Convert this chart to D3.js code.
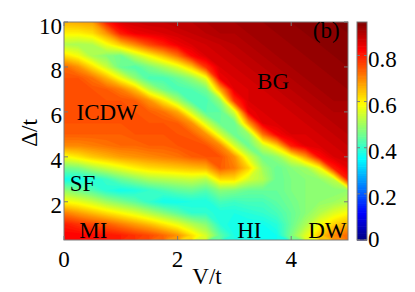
<!DOCTYPE html>
<html><head><meta charset="utf-8">
<script src="https://cdn.jsdelivr.net/npm/d3@7"></script>
<style>html,body{margin:0;padding:0;background:#fff}svg{display:block}</style>
</head><body><svg id="c" width="415" height="292"></svg>
<script>
// ---- data ----
const vGrid = [0,0.25,0.5,0.75,1,1.25,1.5,1.75,2,2.25,2.5,2.75,3,3.25,3.5,3.75,4,4.25,4.5,4.75,5];
const deltaGrid = [10,9.5,9,8.5,8,7.5,7,6.5,6,5.5,5,4.5,4,3.5,3,2.5,2,1.5,1,0.5];
// order parameter, one column per V value, entries follow deltaGrid (top to bottom)
const valuesByV = [
 [0.66,0.60,0.52,0.62,0.73,0.75,0.75,0.75,0.75,0.75,0.74,0.70,0.58,0.46,0.37,0.49,0.59,0.71,0.80,0.83],
 [0.67,0.60,0.51,0.58,0.69,0.75,0.75,0.75,0.75,0.75,0.74,0.70,0.61,0.47,0.37,0.46,0.57,0.68,0.78,0.83],
 [0.68,0.62,0.52,0.51,0.62,0.72,0.75,0.75,0.75,0.75,0.74,0.71,0.64,0.51,0.38,0.43,0.54,0.65,0.76,0.82],
 [0.80,0.69,0.58,0.48,0.54,0.66,0.74,0.75,0.75,0.75,0.74,0.72,0.66,0.54,0.41,0.39,0.50,0.62,0.74,0.81],
 [0.86,0.80,0.64,0.46,0.45,0.58,0.71,0.75,0.75,0.75,0.74,0.73,0.68,0.57,0.45,0.37,0.47,0.59,0.71,0.80],
 [0.87,0.84,0.70,0.53,0.43,0.49,0.65,0.74,0.75,0.75,0.75,0.73,0.69,0.60,0.48,0.38,0.44,0.56,0.68,0.78],
 [0.88,0.85,0.76,0.59,0.47,0.42,0.53,0.69,0.74,0.75,0.75,0.74,0.70,0.62,0.51,0.40,0.40,0.52,0.65,0.76],
 [0.88,0.86,0.80,0.65,0.51,0.42,0.46,0.61,0.72,0.75,0.75,0.74,0.71,0.63,0.52,0.42,0.37,0.48,0.61,0.73],
 [0.89,0.87,0.84,0.72,0.56,0.45,0.42,0.51,0.67,0.74,0.75,0.75,0.72,0.64,0.53,0.44,0.37,0.44,0.57,0.69],
 [0.89,0.88,0.86,0.82,0.64,0.49,0.43,0.42,0.54,0.69,0.74,0.76,0.74,0.65,0.54,0.45,0.38,0.40,0.52,0.62],
 [0.90,0.89,0.87,0.86,0.78,0.57,0.46,0.42,0.43,0.55,0.69,0.75,0.75,0.66,0.52,0.43,0.38,0.40,0.48,0.55],
 [0.90,0.90,0.88,0.87,0.86,0.84,0.67,0.49,0.44,0.45,0.55,0.70,0.75,0.74,0.62,0.48,0.42,0.38,0.39,0.44],
 [0.91,0.90,0.89,0.88,0.87,0.86,0.85,0.78,0.55,0.45,0.45,0.55,0.69,0.71,0.62,0.47,0.41,0.38,0.37,0.38],
 [0.91,0.91,0.90,0.89,0.88,0.87,0.86,0.86,0.84,0.68,0.49,0.45,0.55,0.63,0.55,0.45,0.42,0.39,0.37,0.37],
 [0.92,0.91,0.91,0.90,0.89,0.88,0.87,0.86,0.86,0.85,0.72,0.54,0.46,0.50,0.52,0.45,0.42,0.40,0.37,0.36],
 [0.92,0.92,0.91,0.91,0.90,0.89,0.88,0.87,0.86,0.86,0.83,0.63,0.49,0.45,0.45,0.45,0.44,0.42,0.39,0.37],
 [0.93,0.92,0.92,0.91,0.91,0.90,0.89,0.88,0.87,0.86,0.86,0.80,0.57,0.48,0.47,0.47,0.46,0.45,0.45,0.47],
 [0.93,0.93,0.92,0.92,0.91,0.91,0.90,0.89,0.88,0.87,0.86,0.85,0.68,0.50,0.48,0.48,0.48,0.48,0.51,0.56],
 [0.94,0.93,0.93,0.92,0.92,0.91,0.91,0.90,0.89,0.88,0.87,0.86,0.82,0.58,0.49,0.48,0.49,0.52,0.58,0.64],
 [0.94,0.94,0.93,0.93,0.92,0.92,0.91,0.91,0.90,0.89,0.88,0.87,0.86,0.80,0.53,0.48,0.50,0.56,0.63,0.70],
 [0.95,0.94,0.94,0.93,0.93,0.92,0.92,0.91,0.90,0.89,0.89,0.88,0.87,0.85,0.80,0.49,0.52,0.59,0.66,0.73]
];
const xTicks = [0,2,4];
const yTicks = [2,4,6,8,10];
const cbTicks = [0,0.2,0.4,0.6,0.8];
const phaseLabels = ["ICDW","BG","SF","MI","HI","DW","(b)"];
const phaseAt = [[0.22,5.65],[3.4,7.0],[0.1,2.5],[0.27,0.4],[3.05,0.4],[4.3,0.4],[4.38,9.3]];
const xTitle = "V/t", yTitle = "\u0394/t";

// ---- drawing ----
const svg = d3.select("#c");
const FONT = "'Liberation Serif','Times New Roman',serif";
const x = d3.scaleLinear().domain([0,5]).range([64,348]);
const y = d3.scaleLinear().domain([0.3,10]).range([240,22]);
const cMax = 0.945;
const cb = d3.scaleLinear().domain([0,cMax]).range([240,22]);
function jet(v){
  const f = Math.max(0, Math.min(1, v/cMax));
  const cl = t => Math.max(0, Math.min(1, t));
  return d3.rgb(255*cl(1.5-Math.abs(4*f-3)), 255*cl(1.5-Math.abs(4*f-2)), 255*cl(1.5-Math.abs(4*f-1)));
}

const nx = vGrid.length, ny = deltaGrid.length;
const flat = new Array(nx*ny);
for (let j=0;j<ny;j++) for (let i=0;i<nx;i++) flat[j*nx+i] = valuesByV[i][j];
const gx = d3.scaleLinear().domain([0.5, nx-0.5]).range([x(vGrid[0]), x(vGrid[nx-1])]);
const gy = d3.scaleLinear().domain([0.5, ny-0.5]).range([y(deltaGrid[0]), y(deltaGrid[ny-1])]);
const proj = d3.geoTransform({point:function(px,py){this.stream.point(gx(px), gy(py));}});
const path = d3.geoPath(proj);
const step = 0.01;
const thresholds = d3.range(0, cMax+1e-9, step);
const contours = d3.contours().size([nx,ny]).thresholds(thresholds)(flat);

svg.append("clipPath").attr("id","clip").append("rect")
  .attr("x",x(0)).attr("y",y(10)).attr("width",x(5)-x(0)).attr("height",y(0.3)-y(10));
const g = svg.append("g").attr("clip-path","url(#clip)");
g.selectAll("path").data(contours).join("path")
  .attr("d", path)
  .attr("fill", d => jet(d.value + step/2))
  .attr("stroke", d => jet(d.value + step/2)).attr("stroke-width",0.3);

// frame
const axCol = "#7a7a7a";
svg.append("rect").attr("x",x(0)).attr("y",y(10)).attr("width",x(5)-x(0)).attr("height",y(0.3)-y(10))
  .attr("fill","none").attr("stroke",axCol).attr("stroke-width",1);
const TL = 4;
xTicks.forEach(t=>{
  svg.append("line").attr("x1",x(t)).attr("x2",x(t)).attr("y1",y(0.3)).attr("y2",y(0.3)-TL).attr("stroke",axCol);
  svg.append("line").attr("x1",x(t)).attr("x2",x(t)).attr("y1",y(10)).attr("y2",y(10)+TL).attr("stroke",axCol);
  svg.append("text").attr("x",x(t)).attr("y",266.5).attr("text-anchor","middle")
    .attr("font-family",FONT).attr("font-size",23).attr("fill","#000").text(d3.format("d")(t));
});
yTicks.forEach(t=>{
  svg.append("line").attr("x1",x(0)).attr("x2",x(0)+TL).attr("y1",y(t)).attr("y2",y(t)).attr("stroke",axCol);
  svg.append("line").attr("x1",x(5)).attr("x2",x(5)-TL).attr("y1",y(t)).attr("y2",y(t)).attr("stroke",axCol);
  svg.append("text").attr("x",62).attr("y",y(t)+11.5).attr("text-anchor","end")
    .attr("font-family",FONT).attr("font-size",23).attr("fill","#000").text(d3.format("d")(t));
});

// colorbar
const cbX0 = 357, cbX1 = 367;
const cbLevels = d3.range(0, cMax, step);
svg.append("g").selectAll("rect").data(cbLevels).join("rect")
  .attr("x",cbX0).attr("width",cbX1-cbX0)
  .attr("y", d => cb(Math.min(d+step,cMax)))
  .attr("height", d => cb(d)-cb(Math.min(d+step,cMax))+0.6)
  .attr("fill", d => jet(d+step/2));
svg.append("rect").attr("x",cbX0).attr("y",cb(cMax)).attr("width",cbX1-cbX0).attr("height",cb(0)-cb(cMax))
  .attr("fill","none").attr("stroke",axCol);
cbTicks.forEach(t=>{
  svg.append("line").attr("x1",cbX0).attr("x2",cbX0+3).attr("y1",cb(t)).attr("y2",cb(t)).attr("stroke",axCol);
  svg.append("line").attr("x1",cbX1).attr("x2",cbX1-3).attr("y1",cb(t)).attr("y2",cb(t)).attr("stroke",axCol);
  svg.append("text").attr("x",368).attr("y",Math.min(cb(t)+11.5, 247)).attr("text-anchor","start")
    .attr("font-family",FONT).attr("font-size",23).attr("fill","#000").text(t===0?"0":d3.format(".1f")(t));
});

// phase labels
phaseLabels.forEach((s,i)=>{
  svg.append("text").attr("x",x(phaseAt[i][0])).attr("y",y(phaseAt[i][1]))
    .attr("font-family",FONT).attr("font-size",23).attr("fill","#000").text(s);
});

// axis titles
svg.append("text").attr("x",207).attr("y",284).attr("text-anchor","middle")
  .attr("font-family",FONT).attr("font-size",23).attr("fill","#000").text(xTitle);
svg.append("text").attr("transform","translate(37,133) rotate(-90)").attr("text-anchor","middle")
  .attr("font-family",FONT).attr("font-size",23).attr("fill","#000").text(yTitle);
</script></body></html>
